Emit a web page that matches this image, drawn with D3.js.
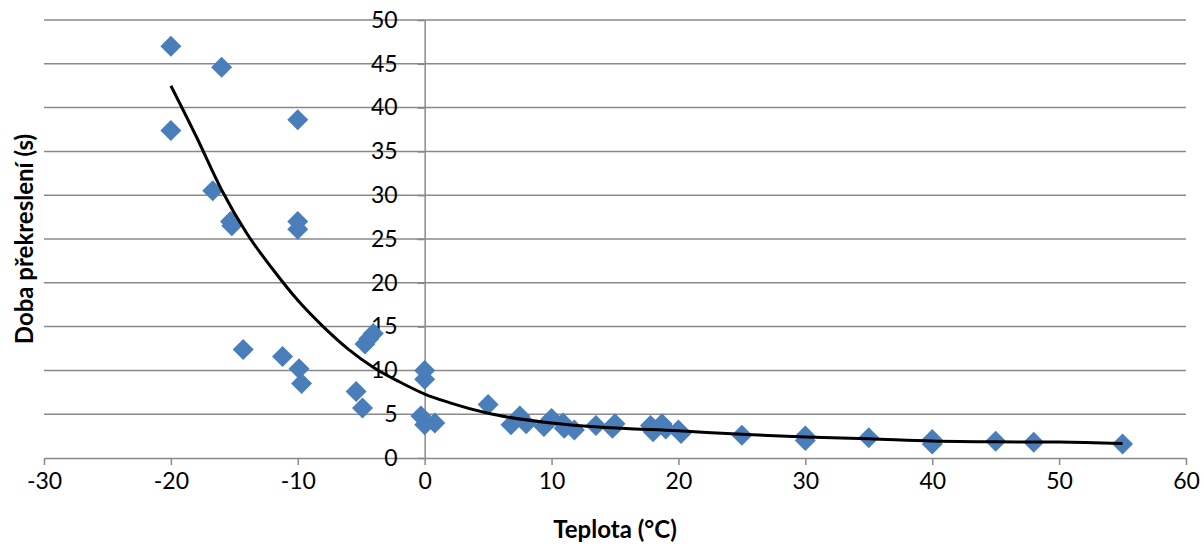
<!DOCTYPE html>
<html>
<head>
<meta charset="utf-8">
<script src="https://cdn.jsdelivr.net/npm/d3@7"></script>
<style>
  body { margin: 0; background: #fff; }
  text { font-family: Lato, "Open Sans", sans-serif; fill: #000; }
</style>
</head>
<body>
<div id="chart"></div>
<script>
// measured points: temperature (°C) vs redraw time (s)
const temps = [-20, -20, -16, -10, -16.7, -15.3, -15.2, -10, -10, -14.3, -11.2, -9.9, -9.7, -5.4, -4.9,
               -4.7, -4.4, -4.05, 0, 0, -0.3, 0, 0.8, 5, 6.8, 7.5, 8, 9.4, 10, 10.9, 11, 11.8,
               13.5, 14.8, 15, 17.8, 18, 18.7, 19, 20, 20.2, 25, 30, 30, 35, 40, 40, 45, 48, 55];
const times = [47, 37.4, 44.6, 38.6, 30.5, 27.0, 26.5, 27.0, 26.1, 12.4, 11.6, 10.2, 8.5, 7.6, 5.7,
               13.0, 13.6, 14.2, 10.0, 9.0, 4.8, 3.8, 4.0, 6.1, 3.8, 4.8, 3.9, 3.6, 4.5, 4.0, 3.4, 3.2,
               3.7, 3.4, 3.9, 3.7, 3.0, 3.9, 3.3, 3.2, 2.8, 2.6, 2.5, 2.0, 2.3, 2.1, 1.6, 1.9, 1.8, 1.6];

// trend line
const trendX = [-20, -18, -16, -14, -12, -10, -8, -6, -4, -2, 0, 2, 5, 10, 14, 20, 25, 30, 35, 40, 45, 50, 55];
const trendY = [42.5, 36.7, 30.6, 25.6, 21.6, 18.0, 15.0, 12.4, 10.3, 8.7, 7.3, 6.3, 5.1, 4.0, 3.5, 3.1, 2.7, 2.4, 2.2, 1.95, 1.85, 1.82, 1.65];

const xTicks = [-30, -20, -10, 0, 10, 20, 30, 40, 50, 60];
const yTicks = [0, 5, 10, 15, 20, 25, 30, 35, 40, 45, 50];

const width = 1204;
const height = 547;

const x = d3.scaleLinear().domain([-30, 60]).range([44, 1186]);
const y = d3.scaleLinear().domain([0, 50]).range([458, 20]);

const svg = d3.select('#chart')
              .append('svg')
              .attr('width', width)
              .attr('height', height);

const gridColor = '#898989';

// horizontal gridlines
svg.append('g')
   .selectAll('line')
   .data(yTicks.filter(d => d > 0))
   .enter().append('line')
   .attr('x1', x(-30))
   .attr('x2', x(60))
   .attr('y1', d => y(d))
   .attr('y2', d => y(d))
   .attr('stroke', gridColor)
   .attr('stroke-width', 1.5);

// x axis at y = 0
const xAxis = svg.append('g')
                 .attr('transform', `translate(0,${y(0)})`)
                 .call(d3.axisBottom(x).tickValues(xTicks).tickFormat(d => String(d))
                         .tickSize(7).tickSizeOuter(0).tickPadding(8));
xAxis.select('.domain').attr('stroke', gridColor).attr('stroke-width', 1.5);
xAxis.selectAll('.tick line').attr('stroke', gridColor).attr('stroke-width', 1.5);
xAxis.selectAll('.tick text')
     .attr('font-size', 23)
     .attr('font-family', 'Lato, "Open Sans", sans-serif')
     .attr('fill', '#000');

// y axis at x = 0
const yAxis = svg.append('g')
                 .attr('transform', `translate(${x(0)},0)`)
                 .call(d3.axisLeft(y).tickValues(yTicks).tickFormat(d => String(d))
                         .tickSize(7).tickSizeOuter(0).tickPadding(20));
yAxis.select('.domain').attr('stroke', gridColor).attr('stroke-width', 1.5);
yAxis.selectAll('.tick line').attr('stroke', gridColor).attr('stroke-width', 1.5);
yAxis.selectAll('.tick text')
     .attr('font-size', 23)
     .attr('font-family', 'Lato, "Open Sans", sans-serif')
     .attr('fill', '#000');

// data markers
const points = temps.map((t, i) => ({ t: t, v: times[i] }));
const r = 10.5;
svg.append('g')
   .selectAll('path')
   .data(points)
   .enter().append('path')
   .attr('d', `M0,${-r}L${r},0L0,${r}L${-r},0Z`)
   .attr('transform', d => `translate(${x(d.t)},${y(d.v)})`)
   .attr('fill', '#4a7ebb');

// trend line
const trend = trendX.map((t, i) => ({ t: t, v: trendY[i] }));
svg.append('path')
   .datum(trend)
   .attr('fill', 'none')
   .attr('stroke', '#000')
   .attr('stroke-width', 3)
   .attr('d', d3.line().x(d => x(d.t)).y(d => y(d.v)).curve(d3.curveMonotoneX));

// axis titles
svg.append('text')
   .attr('x', (x(-30) + x(60)) / 2)
   .attr('y', 538)
   .attr('text-anchor', 'middle')
   .attr('font-size', 24)
   .attr('font-weight', 'bold')
   .text('Teplota (°C)');

svg.append('text')
   .attr('transform', `translate(33,${(y(0) + y(50)) / 2}) rotate(-90)`)
   .attr('text-anchor', 'middle')
   .attr('font-size', 24)
   .attr('font-weight', 'bold')
   .text('Doba překreslení (s)');
</script>
</body>
</html>
